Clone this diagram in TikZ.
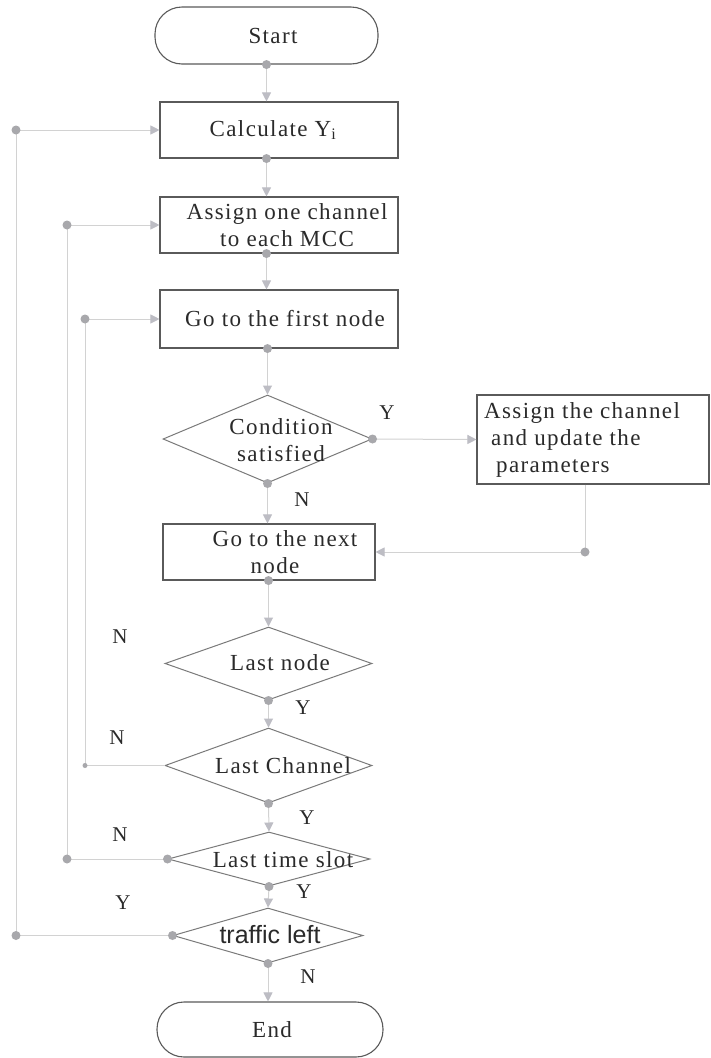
\documentclass[tikz,border=0pt]{standalone}
\usepackage{fontspec}
\newfontfamily\boxfont{Liberation Serif}[LetterSpace=6]
\newfontfamily\labfont{Liberation Serif}
\newfontfamily\sansf{Liberation Sans}
\usetikzlibrary{shapes.geometric,arrows.meta}
\definecolor{lineg}{HTML}{D2D2D2}
\definecolor{arrg}{HTML}{BDBDC4}
\definecolor{dotg}{HTML}{A8A8AC}
\definecolor{boxg}{HTML}{5A5A5A}
\definecolor{diag}{HTML}{7A7A7A}
\definecolor{txt}{HTML}{2A2A2A}
\tikzset{
  conn/.style={draw=lineg, line width=1pt},
  arr/.style={conn, -{Triangle[width=9pt,length=9pt,color=arrg]}},
  box/.style={draw=boxg, line width=1.1pt, rectangle, inner sep=0pt},
  term/.style={draw=boxg, line width=1.1pt, rectangle, rounded corners=27pt, inner sep=0pt},
  dia/.style={draw=diag, line width=1pt, diamond, inner sep=0pt},
  txtn/.style={font=\boxfont\fontsize{23}{27}\selectfont, text=txt, align=center, inner sep=0pt},
  yn/.style={font=\labfont\fontsize{21}{21}\selectfont, text=txt, inner sep=0pt},
  dotn/.style={circle, fill=dotg, inner sep=0pt, minimum size=9pt},
  sdot/.style={circle, fill=dotg, inner sep=0pt, minimum size=5pt}
}
\begin{document}
\begin{tikzpicture}[x=1pt,y=-1pt]
\useasboundingbox (0,0) rectangle (710,1058);
\fill[white] (0,0) rectangle (710,1058);

% shapes
\node[term, minimum width=223pt, minimum height=57pt] (start) at (266.5,35.5) {};
\node[box, minimum width=238pt, minimum height=56pt] (calc) at (279,130) {};
\node[box, minimum width=238pt, minimum height=56pt] (asg1) at (279,225) {};
\node[box, minimum width=238pt, minimum height=58pt] (first) at (279,319) {};
\node[dia, minimum width=209pt, minimum height=88pt] (cond) at (267.5,439) {};
\node[box, minimum width=232pt, minimum height=89pt] (asgc) at (593,439.5) {};
\node[box, minimum width=212pt, minimum height=56pt] (next) at (269,552) {};
\node[dia, minimum width=207pt, minimum height=73pt] (lastnode) at (268.5,663.5) {};
\node[dia, minimum width=207pt, minimum height=75pt] (lastch) at (268.5,765.5) {};
\node[dia, minimum width=202pt, minimum height=54pt] (lastts) at (269,859) {};
\node[dia, minimum width=190pt, minimum height=55pt] (traffic) at (268,935.5) {};
\node[term, minimum width=226pt, minimum height=55pt] (end) at (270,1029.5) {};

% texts
\node[txtn] (startt) at (273,36) {Start};
\node[txtn] (calct) at (273,130) {Calculate Y\textsubscript{i}};
\node[txtn] (asg1t) at (287,225) {Assign one channel\\to each MCC};
\node[txtn] (firstt) at (285,319) {Go to the first node};
\node[txtn] (condt) at (281,440) {Condition\\satisfied};
\node[txtn, align=left, anchor=west] (asgct) at (484,440) {Assign the channel\\\hspace{7pt}and update the\\\hspace{12pt}parameters};
\node[txtn] (nextt) at (285,552) {Go to the next\\\hspace{-20pt}node};
\node[txtn] (lastnodet) at (280,663) {Last node};
\node[txtn] (lastcht) at (283,766) {Last Channel};
\node[txtn] (lasttst) at (283,860) {Last time slot};
\node[font=\sansf\fontsize{25}{25}\selectfont, text=txt, inner sep=0pt] (traffict) at (270,935) {traffic left};
\node[txtn] (endt) at (272,1030) {End};

% Y / N labels
\node[yn] (l1) at (387,413) {Y};
\node[yn] (l2) at (302,500) {N};
\node[yn] (l3) at (120,637) {N};
\node[yn] (l4) at (303,708) {Y};
\node[yn] (l5) at (117,738) {N};
\node[yn] (l6) at (307,818) {Y};
\node[yn] (l7) at (120,835) {N};
\node[yn] (l8) at (304,892) {Y};
\node[yn] (l9) at (123,903) {Y};
\node[yn] (l10) at (308,977) {N};

% helper coordinates
\coordinate (calcb) at (calc.south -| start.south);
\coordinate (asg1b) at (asg1.south -| start.south);
\coordinate (firstb) at (first.south -| cond.north);
\coordinate (acb) at ([xshift=-8pt]asgc.south);
\coordinate (acc) at (acb |- next.east);
\coordinate (nextb) at (next.south -| lastnode.north);
\coordinate (lpA) at (16,935.5);
\coordinate (lpA2) at (16,130);
\coordinate (lpB) at (67,859);
\coordinate (lpB2) at (67,225);
\coordinate (lpC) at (85,765.5);
\coordinate (lpC2) at (85,319);

% main flow
\draw[arr] (start.south) -- (start.south |- calc.north);
\draw[arr] (calcb) -- (calcb |- asg1.north);
\draw[arr] (asg1b) -- (asg1b |- first.north);
\draw[arr] (firstb) -- (cond.north);
\draw[arr] (cond.south) -- (cond.south |- next.north);
\draw[arr] (cond.east) -- (asgc.west);
\draw[conn] (acb) -- (acc);
\draw[arr] (acc) -- (next.east);
\draw[arr] (nextb) -- (lastnode.north);
\draw[arr] (lastnode.south) -- (lastch.north);
\draw[arr] (lastch.south) -- (lastts.north);
\draw[arr] (lastts.south) -- (traffic.north);
\draw[arr] (traffic.south) -- (traffic.south |- end.north);

% loops
\draw[conn] (lastch.west) -- (lpC) -- (lpC2);
\draw[arr] (lpC2) -- (first.west);
\draw[conn] (lastts.west) -- (lpB) -- (lpB2);
\draw[arr] (lpB2) -- (asg1.west);
\draw[conn] (traffic.west) -- (lpA) -- (lpA2);
\draw[arr] (lpA2) -- (calc.west);

% dots
\node[dotn] (d1) at (start.south) {};
\node[dotn] (d2) at (calcb) {};
\node[dotn] (d3) at (asg1b) {};
\node[dotn] (d4) at (firstb) {};
\node[dotn] (d5) at (cond.south) {};
\node[dotn] (d6) at (cond.east) {};
\node[dotn] (d7) at (acc) {};
\node[dotn] (d8) at (nextb) {};
\node[dotn] (d9) at (lastnode.south) {};
\node[dotn] (d10) at (lastch.south) {};
\node[dotn] (d11) at (lastts.south) {};
\node[dotn] (d12) at (traffic.south) {};
\node[dotn] (d13) at (lastts.west) {};
\node[dotn] (d14) at (traffic.west) {};
\node[sdot] (d15) at (lpC) {};
\node[dotn] (d16) at (lpB) {};
\node[dotn] (d17) at (lpA) {};
\node[dotn] (d18) at (lpA2) {};
\node[dotn] (d19) at (lpB2) {};
\node[dotn] (d20) at (lpC2) {};
\end{tikzpicture}
\end{document}
